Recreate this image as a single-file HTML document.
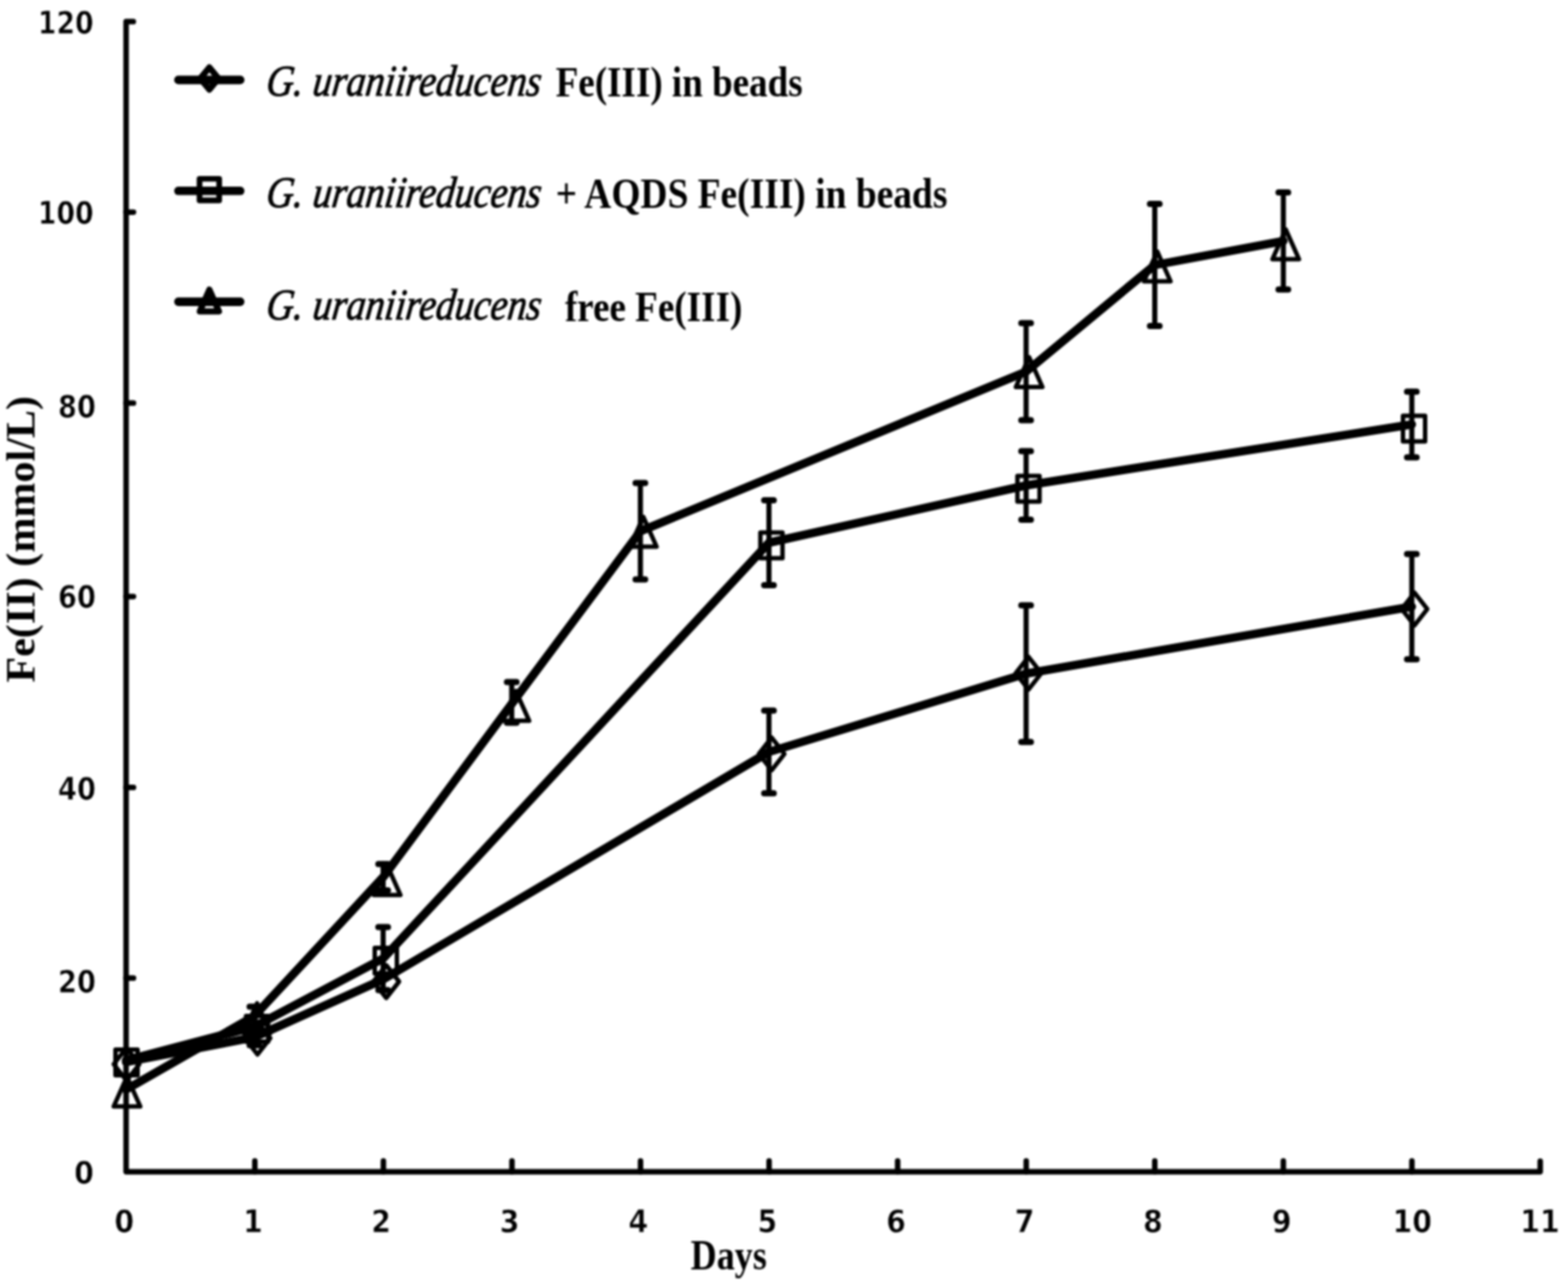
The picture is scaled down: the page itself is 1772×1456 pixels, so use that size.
<!DOCTYPE html><html><head><meta charset="utf-8"><title>Fe(II) production chart</title><style>html,body{margin:0;padding:0;background:#fff;}svg{display:block;filter:blur(0.8px);}.tk{font-family:"DejaVu Sans Condensed","DejaVu Sans","Liberation Sans",sans-serif;font-stretch:condensed;font-weight:bold;font-size:35.7px;fill:#000;stroke:#fff;stroke-width:0.6px;}.tt{font-family:"Liberation Serif","Times New Roman",serif;font-weight:bold;fill:#000;}.it{font-family:"Liberation Serif","Times New Roman",serif;font-style:italic;fill:#000;}</style></head><body>
<svg width="1772" height="1456" viewBox="0 0 1772 1456">
<rect width="1772" height="1456" fill="#fff"/>
<g fill="none" stroke="#000" stroke-width="6.2" stroke-linejoin="round" stroke-linecap="round">
<path d="M150.7 24.4 L142.5 24.4 L142.5 1324.6 L1740.6 1324.6 L1740.6 1312.6"/>
<path d="M142.5 1105.7 H150.9"/>
<path d="M142.5 890.2 H150.9"/>
<path d="M142.5 674.3 H150.9"/>
<path d="M142.5 455.7 H150.9"/>
<path d="M142.5 239.8 H150.9"/>
<path d="M287.99 1324.6 V1312.4"/>
<path d="M433.28 1324.6 V1312.4"/>
<path d="M578.57 1324.6 V1312.4"/>
<path d="M723.86 1324.6 V1312.4"/>
<path d="M869.15 1324.6 V1312.4"/>
<path d="M1014.44 1324.6 V1312.4"/>
<path d="M1159.73 1324.6 V1312.4"/>
<path d="M1305.02 1324.6 V1312.4"/>
<path d="M1450.31 1324.6 V1312.4"/>
<path d="M1595.6 1324.6 V1312.4"/>
</g>
<text class="tk" x="105.8" y="37.5" text-anchor="end" textLength="63.1" lengthAdjust="spacingAndGlyphs">120</text>
<text class="tk" x="105.8" y="252.9" text-anchor="end" textLength="63.1" lengthAdjust="spacingAndGlyphs">100</text>
<text class="tk" x="108.5" y="472" text-anchor="end" textLength="42.9" lengthAdjust="spacingAndGlyphs">80</text>
<text class="tk" x="108.5" y="687.4" text-anchor="end" textLength="42.9" lengthAdjust="spacingAndGlyphs">60</text>
<text class="tk" x="108.5" y="903.8" text-anchor="end" textLength="42.9" lengthAdjust="spacingAndGlyphs">40</text>
<text class="tk" x="108.5" y="1122.4" text-anchor="end" textLength="42.9" lengthAdjust="spacingAndGlyphs">20</text>
<text class="tk" x="106" y="1337.9" text-anchor="end">0</text>
<text class="tk" x="140.5" y="1393" text-anchor="middle">0</text>
<text class="tk" x="286" y="1393" text-anchor="middle">1</text>
<text class="tk" x="430.7" y="1393" text-anchor="middle">2</text>
<text class="tk" x="576" y="1393" text-anchor="middle">3</text>
<text class="tk" x="721.3" y="1393" text-anchor="middle">4</text>
<text class="tk" x="867.1" y="1393" text-anchor="middle">5</text>
<text class="tk" x="1012.6" y="1393" text-anchor="middle">6</text>
<text class="tk" x="1157.8" y="1393" text-anchor="middle">7</text>
<text class="tk" x="1303" y="1393" text-anchor="middle">8</text>
<text class="tk" x="1448.5" y="1393" text-anchor="middle">9</text>
<text class="tk" x="1596" y="1393" text-anchor="middle">10</text>
<text class="tk" x="1740.3" y="1393" text-anchor="middle">11</text>
<text class="tt" font-size="49" x="823.5" y="1435" text-anchor="middle" textLength="86" lengthAdjust="spacingAndGlyphs">Days</text>
<text class="tt" font-size="46" transform="translate(38.6 771.6) rotate(-90)" x="0" y="0" textLength="324" lengthAdjust="spacingAndGlyphs">Fe(II) (mmol/L)</text>
<g fill="none" stroke="#000" stroke-width="9.6" stroke-linejoin="round" stroke-linecap="round">
<path d="M142.5 1200.6 L287.5 1172.5 L433 1107.2 L869 850 L1159.6 761.5 L1595.5 685.8"/>
<path d="M142.5 1198.6 L287.5 1160.6 L433 1083.6 L869 613.5 L1159.6 548.7 L1595.5 479.8"/>
<path d="M142.5 1231.6 L287.5 1148.6 L433 991.6 L578.3 795.6 L723.7 600.5 L1159.6 420.1 L1305 299.6 L1450.3 272.5"/>
</g>
<g fill="none" stroke="#000" stroke-linecap="round">
<path stroke-width="5.8" d="M287.5 1138.1V1159.1"/>
<path stroke-width="7" d="M282.1 1138.1H292.9M282.1 1159.1H292.9"/>
<path stroke-width="5.8" d="M433 976.7V1006.5"/>
<path stroke-width="7" d="M427.6 976.7H438.4M427.6 1006.5H438.4"/>
<path stroke-width="5.8" d="M578.3 771.1V817"/>
<path stroke-width="7" d="M572.9 771.1H583.7M572.9 817H583.7"/>
<path stroke-width="5.8" d="M723.7 545.9V655"/>
<path stroke-width="7" d="M718.3 545.9H729.1M718.3 655H729.1"/>
<path stroke-width="5.8" d="M1159.6 365.2V475"/>
<path stroke-width="7" d="M1154.2 365.2H1165M1154.2 475H1165"/>
<path stroke-width="5.8" d="M1305 230.5V368.6"/>
<path stroke-width="7" d="M1299.6 230.5H1310.4M1299.6 368.6H1310.4"/>
<path stroke-width="5.8" d="M1450.3 217.6V327.3"/>
<path stroke-width="7" d="M1444.9 217.6H1455.7M1444.9 327.3H1455.7"/>
<path stroke-width="5.8" d="M433 1048V1119.2"/>
<path stroke-width="7" d="M427.6 1048H438.4M427.6 1119.2H438.4"/>
<path stroke-width="5.8" d="M869 565.4V661.5"/>
<path stroke-width="7" d="M863.6 565.4H874.4M863.6 661.5H874.4"/>
<path stroke-width="5.8" d="M1159.6 509.9V587.4"/>
<path stroke-width="7" d="M1154.2 509.9H1165M1154.2 587.4H1165"/>
<path stroke-width="5.8" d="M1595.5 442.7V516.9"/>
<path stroke-width="7" d="M1590.1 442.7H1600.9M1590.1 516.9H1600.9"/>
<path stroke-width="5.8" d="M869 803.2V896.7"/>
<path stroke-width="7" d="M863.6 803.2H874.4M863.6 896.7H874.4"/>
<path stroke-width="5.8" d="M1159.6 684.2V838.7"/>
<path stroke-width="7" d="M1154.2 684.2H1165M1154.2 838.7H1165"/>
<path stroke-width="5.8" d="M1595.5 626.3V745.3"/>
<path stroke-width="7" d="M1590.1 626.3H1600.9M1590.1 745.3H1600.9"/>
<path stroke-width="5.8" d="M287.5 1163.5V1181.5"/>
<path stroke-width="7" d="M282.1 1163.5H292.9M282.1 1181.5H292.9"/>
</g>
<g fill="none" stroke="#000" stroke-width="5" stroke-linejoin="round">
<path d="M143 1184.5L157.5 1203L143 1221.5L128.5 1203Z"/>
<path d="M291 1155L305.5 1173.5L291 1192L276.5 1173.5Z"/>
<path d="M436.5 1091.1L451 1109.6L436.5 1128.1L422 1109.6Z"/>
<path d="M872 833.7L886.5 852.2L872 870.7L857.5 852.2Z"/>
<path d="M1162.3 742.5L1176.8 761L1162.3 779.5L1147.8 761Z"/>
<path d="M1598.5 670L1613 688.5L1598.5 707L1584 688.5Z"/>
<path d="M130.5 1186.5H155.5V1215.5H130.5Z"/>
<path d="M278 1148.5H303V1177.5H278Z"/>
<path d="M423.5 1071.5H448.5V1100.5H423.5Z"/>
<path d="M859.3 601.9H884.3V630.9H859.3Z"/>
<path d="M1149.8 537.9H1174.8V566.9H1149.8Z"/>
<path d="M1585.5 470.1H1610.5V499.1H1585.5Z"/>
<path d="M143.5 1217.15L158.5 1250.85L128.5 1250.85Z"/>
<path d="M290.5 1134.15L305.5 1167.85L275.5 1167.85Z"/>
<path d="M437.5 977.95L452.5 1011.65L422.5 1011.65Z"/>
<path d="M583 781.15L598 814.85L568 814.85Z"/>
<path d="M727 584.35L742 618.05L712 618.05Z"/>
<path d="M1163 403.75L1178 437.45L1148 437.45Z"/>
<path d="M1307.8 284.35L1322.8 318.05L1292.8 318.05Z"/>
<path d="M1453 259.35L1468 293.05L1438 293.05Z"/>
</g>
<path d="M201.6 90.4 H271.5" fill="none" stroke="#000" stroke-width="9.6" stroke-linecap="round"/>
<path d="M236.6 76.2L246.9 88.8L236.6 101.4L226.3 88.8Z" fill="none" stroke="#000" stroke-width="7" stroke-linejoin="round"/>
<text class="it" font-size="49.5" transform="translate(299.8 107.6) skewX(-7)" stroke="#000" stroke-width="1.0" textLength="310.5" lengthAdjust="spacingAndGlyphs">G. uraniireducens</text>
<text class="tt" font-size="49.5" x="628" y="109" textLength="279" lengthAdjust="spacingAndGlyphs">Fe(III) in beads</text>
<path d="M201.6 215.8 H271.5" fill="none" stroke="#000" stroke-width="9.6" stroke-linecap="round"/>
<path d="M225.5 202.15H247.7V226.55H225.5Z" fill="none" stroke="#000" stroke-width="6.4" stroke-linejoin="round"/>
<text class="it" font-size="49.5" transform="translate(299.8 233.6) skewX(-7)" stroke="#000" stroke-width="1.0" textLength="310.5" lengthAdjust="spacingAndGlyphs">G. uraniireducens</text>
<text class="tt" font-size="49.5" x="628" y="235" textLength="442.6" lengthAdjust="spacingAndGlyphs">+ AQDS Fe(III) in beads</text>
<path d="M201.6 341.1 H271.5" fill="none" stroke="#000" stroke-width="9.6" stroke-linecap="round"/>
<path d="M236.6 327.4L247.4 352L225.8 352Z" fill="none" stroke="#000" stroke-width="7" stroke-linejoin="round"/>
<text class="it" font-size="49.5" transform="translate(299.8 361.2) skewX(-7)" stroke="#000" stroke-width="1.0" textLength="310.5" lengthAdjust="spacingAndGlyphs">G. uraniireducens</text>
<text class="tt" font-size="49.5" x="638.4" y="362.6" textLength="200.5" lengthAdjust="spacingAndGlyphs">free Fe(III)</text>
</svg></body></html>
